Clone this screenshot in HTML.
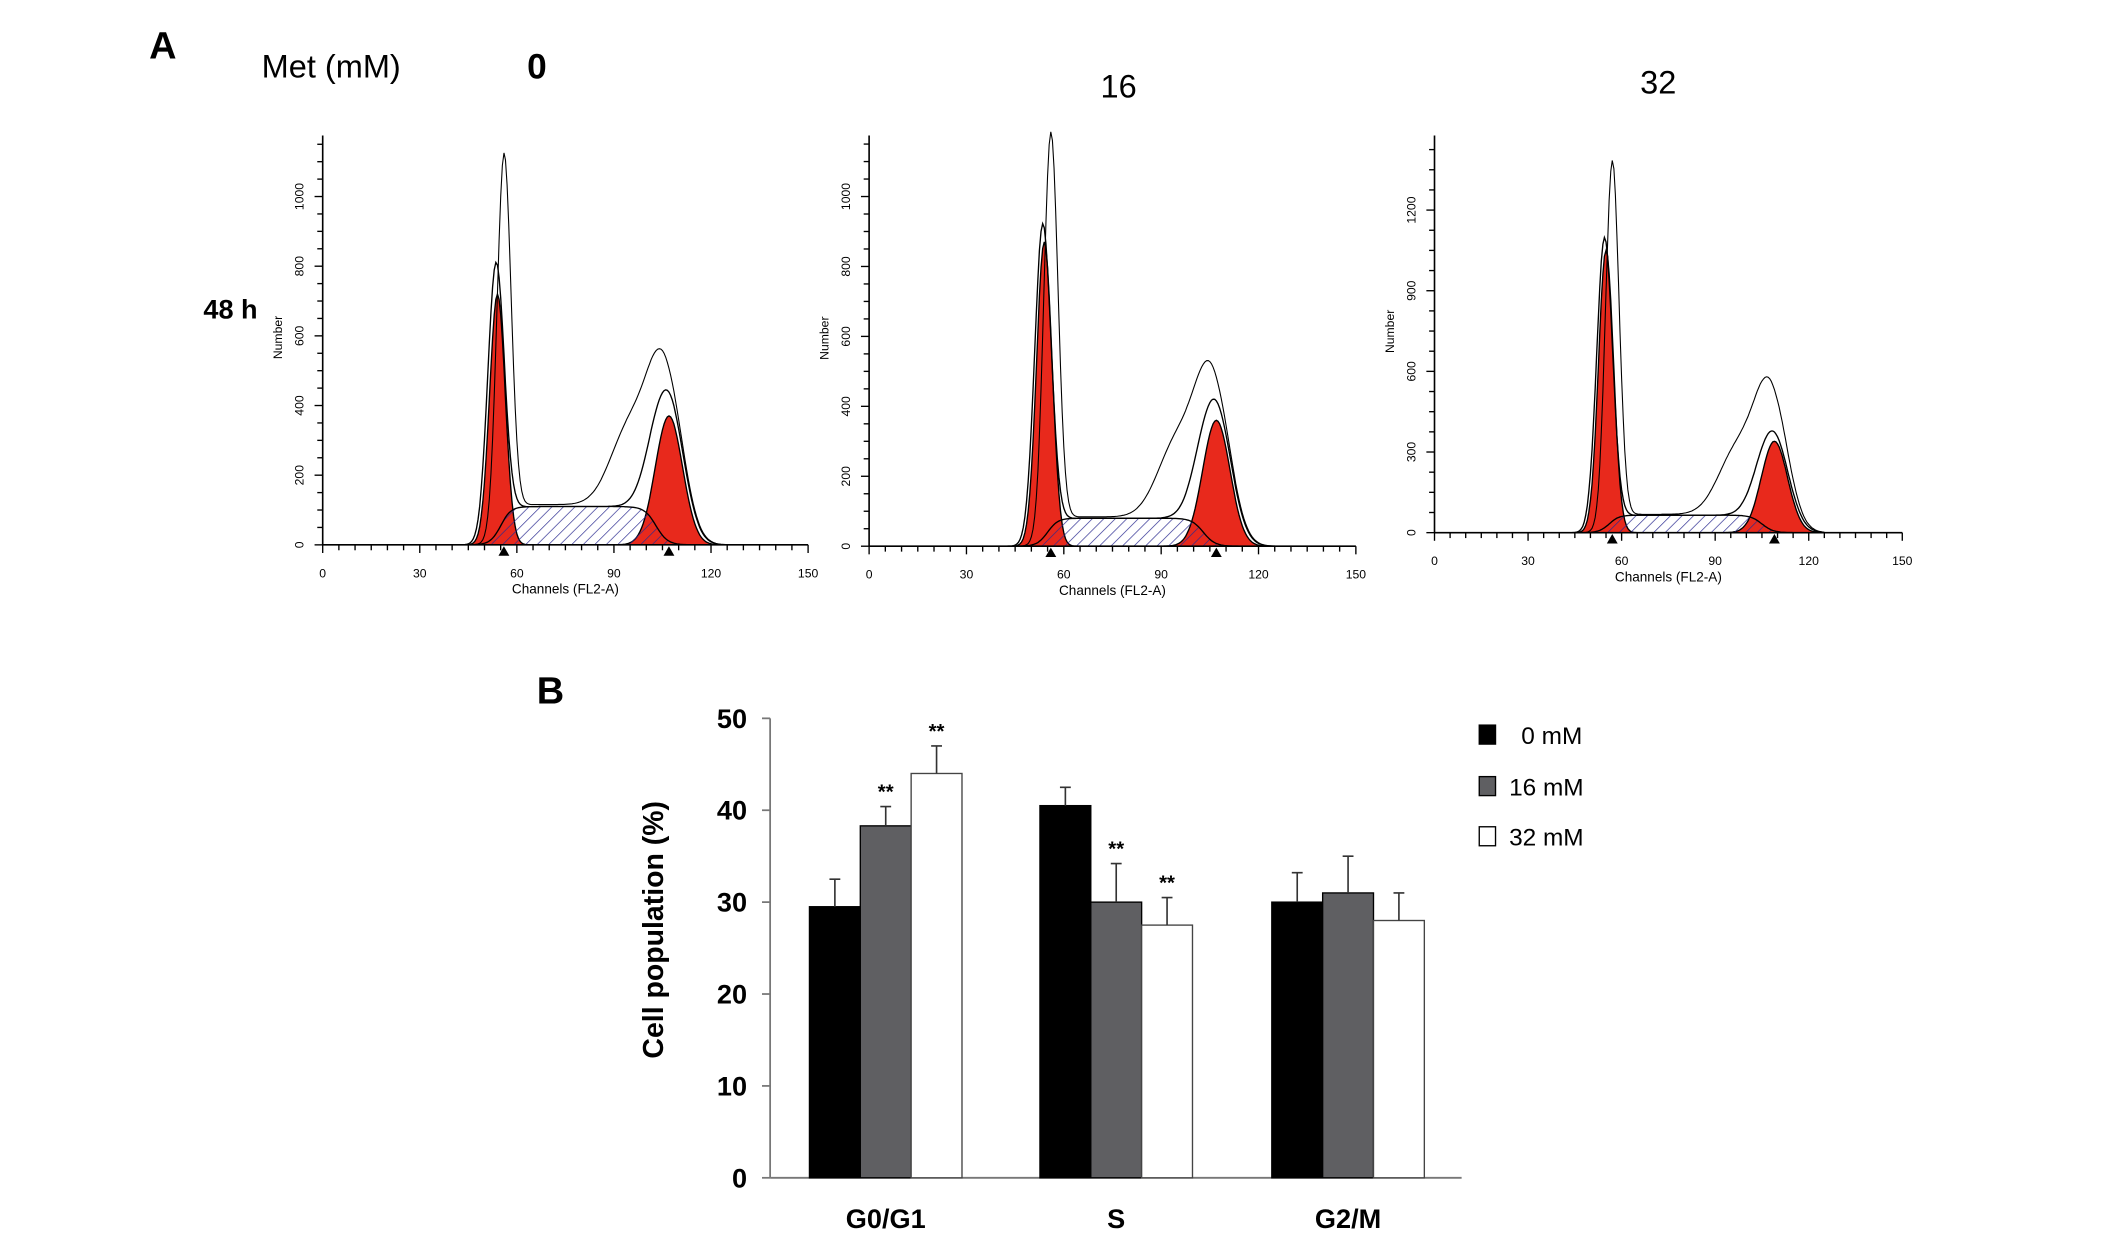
<!DOCTYPE html>
<html><head><meta charset="utf-8">
<style>
html,body{margin:0;padding:0;background:#fff;}
svg{display:block;}
text{font-family:"Liberation Sans",sans-serif;}
.cond{font-family:"Liberation Sans Narrow","Liberation Sans",sans-serif;}
</style></head>
<body>
<svg id="fig" width="2126" height="1251" viewBox="0 0 1568 923" preserveAspectRatio="none" xmlns="http://www.w3.org/2000/svg">
<defs>
<pattern id="hatch" patternUnits="userSpaceOnUse" width="6" height="6" patternTransform="rotate(45)">
<line x1="0" y1="0" x2="0" y2="6" stroke="#2a2a90" stroke-width="1"/>
</pattern>
</defs>
<text x="110" y="43" font-family="Liberation Serif" font-weight="bold" font-size="28">A</text>
<text x="193" y="57" class="cond" font-size="24">Met (mM)</text>
<text x="396" y="58" class="cond" font-size="26" text-anchor="middle" font-weight="bold">0</text>
<text x="825" y="72" class="cond" font-size="24" text-anchor="middle">16</text>
<text x="1223" y="69" class="cond" font-size="24" text-anchor="middle">32</text>
<text x="150" y="235" class="cond" font-size="20" font-weight="bold">48 h</text>
<text x="406" y="519" font-family="Liberation Serif" font-weight="bold" font-size="28" text-anchor="middle">B</text>
<g id="hists"></g>
<g id="bars"></g>
</svg>
<script>
// ---- Panel A histogram data ----
const histPanels = ["0 mM","16 mM","32 mM"];
const g1Mean = [54, 54, 55];
const g1Height = [720, 870, 1050];
const g1Outer = [780, 900, 1080];
const g1Raw = [1050, 1130, 1340];
const g2Mean = [107, 107, 109];
const g2Height = [370, 360, 340];
const g2Outer = [430, 410, 370];
const g2Raw = [490, 470, 520];
const sHeight = [110, 80, 65];
const yMaxTick = [1000, 1000, 1200];
const yTickStep = [200, 200, 300];
const xTicks = [0, 30, 60, 90, 120, 150];

const frames = [
 {x0:238, x1:596, y0:402, yTop:100, yRef:145, refVal:1000},
 {x0:641, x1:1000, y0:403, yTop:100, yRef:145, refVal:1000},
 {x0:1058, x1:1403, y0:393, yTop:100, yRef:155, refVal:1200}
];
const NS="http://www.w3.org/2000/svg";
function mk(tag, attrs, parent){const e=document.createElementNS(NS,tag);for(const k in attrs)e.setAttribute(k,attrs[k]);parent.appendChild(e);return e;}
const hists=document.getElementById('hists');
function gauss(x,m,s){return Math.exp(-0.5*((x-m)/s)*((x-m)/s));}
function sig(x){return 1/(1+Math.exp(-x));}
histPanels.forEach((name,i)=>{
 const f=frames[i];
 const g=mk('g',{},hists);
 
 
 const sx=c=>f.x0+(f.x1-f.x0)*c/150;
 const sy=v=>f.y0-(f.y0-f.yRef)*v/f.refVal;
 const s1=2.4, s2=4.2;
 const G1=c=>g1Height[i]*gauss(c,g1Mean[i],s1);
 const G2=c=>g2Height[i]*gauss(c,g2Mean[i],s2);
 const S=c=>sHeight[i]*sig((c-g1Mean[i]-1)/1.6)*sig((g2Mean[i]-4-c)/1.8);
 const pts=fn=>{let p=[];for(let c=40;c<=125;c+=0.5)p.push(sx(c).toFixed(1)+','+sy(fn(c)).toFixed(1));return p;};
 const area=fn=>'M'+sx(40)+','+f.y0+' L'+pts(fn).join(' L')+' L'+sx(125)+','+f.y0+' Z';
 let e=mk('path',{d:area(S),fill:'#fff',stroke:'none'},g);
 
 e=mk('path',{d:area(G1),fill:'#e8291c',stroke:'#000','stroke-width':1},g);
 
 e=mk('path',{d:area(G2),fill:'#e8291c',stroke:'#000','stroke-width':1},g);
 
 e=mk('path',{d:area(S),fill:'url(#hatch)',stroke:'#000','stroke-width':1},g);
 
 const env=c=>g1Outer[i]*gauss(c,g1Mean[i]-0.5,s1*1.05)+S(c)+g2Outer[i]*gauss(c,g2Mean[i]-0.5,s2*1.15);
 e=mk('polyline',{points:pts(env).join(' '),fill:'none',stroke:'#000','stroke-width':1},g);
 
 const raw=c=>g1Raw[i]*gauss(c,g1Mean[i]+2,s1*0.9)+S(c)*1.05+g2Raw[i]*gauss(c,g2Mean[i]-1,s2*1.2)+(g2Raw[i]*0.45)*gauss(c,g2Mean[i]-12,6)*sig((g2Mean[i]-c)/1);
 e=mk('polyline',{points:pts(raw).join(' '),fill:'none',stroke:'#000','stroke-width':0.8},g);
 
 e=mk('line',{x1:f.x0,y1:f.y0,x2:f.x1,y2:f.y0,stroke:'#000','stroke-width':1.2},g);
 
 e=mk('line',{x1:f.x0,y1:f.y0,x2:f.x0,y2:f.yTop,stroke:'#000','stroke-width':1.2},g);
 
 for(let c=0;c<=150;c+=5){const maj=c%30===0;mk('line',{x1:sx(c),y1:f.y0,x2:sx(c),y2:f.y0+(maj?6:4),stroke:'#000','stroke-width':1},g);}
 xTicks.forEach(c=>{const t=mk('text',{x:sx(c),y:f.y0+24,'font-size':9,'text-anchor':'middle'},g);t.textContent=c;
  });
 const ymaxv=(f.y0-f.yTop)/(f.y0-f.yRef)*f.refVal;
 const minor=yTickStep[i]/4;
 for(let v=0;v<=ymaxv;v+=minor){const maj=v%yTickStep[i]===0;mk('line',{x1:f.x0,y1:sy(v),x2:f.x0-(maj?6:4),y2:sy(v),stroke:'#000','stroke-width':1},g);}
 for(let v=0;v<=yMaxTick[i];v+=yTickStep[i]){const t=mk('text',{x:0,y:0,'font-size':9,'text-anchor':'middle',transform:`translate(${f.x0-14},${sy(v)}) rotate(-90)`},g);t.textContent=v;
  }
 let t=mk('text',{x:0,y:0,'font-size':9,'text-anchor':'middle',transform:`translate(${f.x0-30},${(f.y0+f.yTop)/2-2}) rotate(-90)`},g);t.textContent='Number';
 
 t=mk('text',{x:(f.x0+f.x1)/2,y:f.y0+36,'font-size':10,'text-anchor':'middle'},g);t.textContent='Channels (FL2-A)';
 
 [g1Mean[i]+2,g2Mean[i]].forEach(c=>{const m=mk('polygon',{points:`${sx(c)-4},${f.y0+8} ${sx(c)+4},${f.y0+8} ${sx(c)},${f.y0+1}`,fill:'#000'},g);
  });
});

// ---- Panel B bar chart data ----
const categories = ["G0/G1","S","G2/M"];
const seriesNames = ["0 mM","16 mM","32 mM"];
const vals0 = [29.5, 40.5, 30.0];
const vals16 = [38.3, 30.0, 31.0];
const vals32 = [44.0, 27.5, 28.0];
const err0 = [3.0, 2.0, 3.2];
const err16 = [2.1, 4.2, 4.0];
const err32 = [3.0, 3.0, 3.0];
const sig0 = ["","",""];
const sig16 = ["**","**",""];
const sig32 = ["**","**",""];
const yTicksB = [0,10,20,30,40,50];

const B=document.getElementById('bars');
const ax={x0:568,x1:1078,y0:869,y50:530};
const yB=v=>ax.y0-(ax.y0-ax.y50)*v/50;
const groupStart=[597,767,938], bw=37.5;
const fills=['#000','#5f5f62','#fff'];
const allVals=[vals0,vals16,vals32], allErr=[err0,err16,err32], allSig=[sig0,sig16,sig32];
let e=mk('line',{x1:ax.x0,y1:ax.y0,x2:ax.x1,y2:ax.y0,stroke:'#777','stroke-width':1.3},B);

e=mk('line',{x1:ax.x0,y1:ax.y0,x2:ax.x0,y2:yB(50),stroke:'#777','stroke-width':1.3},B);

yTicksB.forEach(v=>{mk('line',{x1:ax.x0-6,y1:yB(v),x2:ax.x0,y2:yB(v),stroke:'#777','stroke-width':1.3},B);
 const t=mk('text',{x:551,y:yB(v)+7,'font-size':20,'font-weight':'bold','text-anchor':'end',class:'cond'},B);t.textContent=v;
 });
categories.forEach((c,ci)=>{
 allVals.forEach((vs,si)=>{
  const x=groupStart[ci]+si*bw, y=yB(vs[ci]);
  const r=mk('rect',{x:x,y:y,width:bw,height:ax.y0-y,fill:fills[si],stroke:si===2?'#444':'#000','stroke-width':1},B);
  
  const ye=yB(vs[ci]+allErr[si][ci]), xm=x+bw/2;
  const l=mk('path',{d:`M${xm},${y} V${ye} M${xm-4},${ye} H${xm+4}`,stroke:'#333','stroke-width':1.2,fill:'none'},B);
  
  if(allSig[si][ci]){const t=mk('text',{x:xm,y:ye-6,'font-size':15,'font-weight':'bold','text-anchor':'middle'},B);t.textContent=allSig[si][ci];
   }
 });
 const t=mk('text',{x:groupStart[ci]+bw*1.5,y:906,'font-size':20,'font-weight':'bold','text-anchor':'middle',class:'cond'},B);t.textContent=c;
 
});
let t=mk('text',{x:0,y:0,'font-size':21,'font-weight':'bold','text-anchor':'middle',transform:'translate(489,686) rotate(-90)'},B);t.textContent='Cell population (%)';

const legY=[542,580,617];
seriesNames.forEach((n,si)=>{
 const g=mk('g',{},B);
 
 mk('rect',{x:1091,y:legY[si]-7,width:12,height:14,fill:fills[si],stroke:'#000','stroke-width':1},g);
 const tt=mk('text',{x:si===0?1122:1113,y:legY[si]+7,'font-size':18,class:'cond'},g);tt.textContent=n;
});
</script>
</body></html>
